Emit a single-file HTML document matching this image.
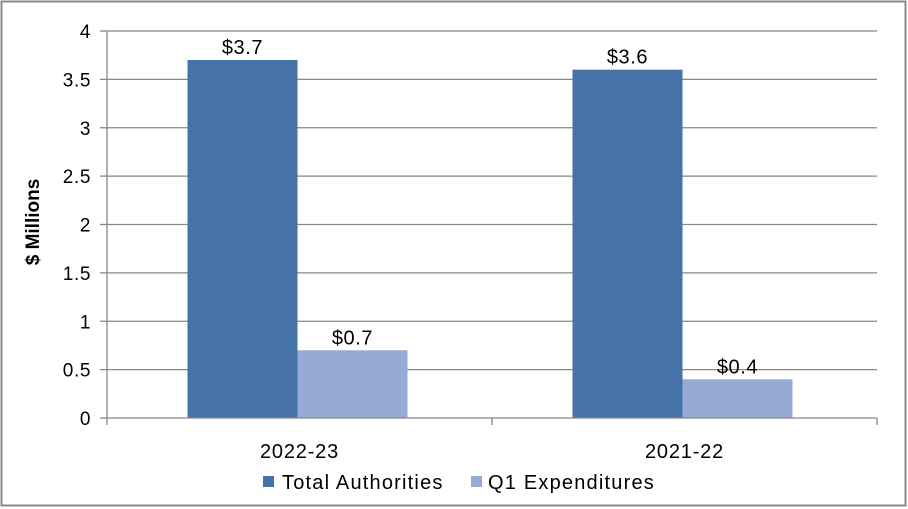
<!DOCTYPE html>
<html><head><meta charset="utf-8"><style>
html,body{margin:0;padding:0;background:#fff;}
svg{display:block;font-family:"Liberation Sans",Calibri,sans-serif;}
</style></head><body>
<svg id="chart" width="908" height="509">
<rect x="1.5" y="1.5" width="904" height="504" fill="#fff" stroke="#888" stroke-width="2"/>
<g id="grid"></g><g id="bars"></g><g id="axes"></g>
<text x="39" y="222" transform="rotate(-90 39 222)" text-anchor="middle" font-size="19" font-weight="bold" fill="#000">$ Millions</text>
<g>
<rect x="263" y="476" width="11" height="11" fill="#4673A7"/>
<text x="282" y="489" font-size="20" letter-spacing="1.2" fill="#000">Total Authorities</text>
<rect x="471" y="476" width="11" height="11" fill="#95ABD3"/>
<text x="488" y="489" font-size="20" letter-spacing="1.2" fill="#000">Q1 Expenditures</text>
</g>
</svg>
<script>
const categories=["2022-23","2021-22"];
const totalAuthorities=[3.7,3.6];
const q1Expenditures=[0.7,0.4];
const yTicks=[0,0.5,1,1.5,2,2.5,3,3.5,4];
const yTickLabels=["0","0.5","1","1.5","2","2.5","3","3.5","4"];
const NS="http://www.w3.org/2000/svg";
const L=107,R=877,T=31,B=418,YMAX=4;
const y=v=>B-(v/YMAX)*(B-T);
const catW=(R-L)/categories.length;
const barW=110;
function mk(tag,attrs,parent,text){const e=document.createElementNS(NS,tag);for(const k in attrs)e.setAttribute(k,attrs[k]);if(text!==undefined)e.textContent=text;parent.appendChild(e);return e;}
const grid=document.getElementById('grid'),bars=document.getElementById('bars'),axes=document.getElementById('axes');
yTicks.forEach((t,i)=>{
  if(t>0){const g=mk('line',{x1:L,x2:R,y1:y(t),y2:y(t),stroke:'#878787','stroke-width':1.3},grid);
  
  }
  const tk=mk('line',{x1:L-7,x2:L,y1:y(t),y2:y(t),stroke:'#878787','stroke-width':1.3},axes);
  
  
  const lb=mk('text',{x:L-16,y:y(t)+7,'text-anchor':'end','font-size':19,'letter-spacing':0.6,fill:'#000'},axes,yTickLabels[i]);
  
  
});
const series=[{vals:totalAuthorities,color:'#4673A7',name:'total-authorities'},{vals:q1Expenditures,color:'#95ABD3',name:'q1-expenditures'}];
categories.forEach((c,ci)=>{
  const x0=L+ci*catW+80.5;
  series.forEach((s,si)=>{
    const v=s.vals[ci],bx=x0+si*barW;
    const r=mk('rect',{x:bx,y:y(v),width:barW,height:B-y(v),fill:s.color},bars);
    
    
    const t=mk('text',{x:bx+barW/2,y:y(v)-6,'text-anchor':'middle','font-size':20,'letter-spacing':0.6,fill:'#000'},bars,'$'+v.toFixed(1));
    
    
  });
  const cl=mk('text',{x:L+ci*catW+catW/2,y:458,'text-anchor':'middle','font-size':20,'letter-spacing':0.8,fill:'#000'},axes,c);
  
  
});
for(let i=0;i<=categories.length;i++){const x=L+i*catW;
  const tk=mk('line',{x1:x,x2:x,y1:B,y2:B+7,stroke:'#878787','stroke-width':1.3},axes);
  
  }
const ya=mk('line',{x1:L,x2:L,y1:T,y2:B,stroke:'#878787','stroke-width':1.3},axes);


const xa=mk('line',{x1:L,x2:R,y1:B,y2:B,stroke:'#878787','stroke-width':1.3},axes);


</script>
</body></html>
